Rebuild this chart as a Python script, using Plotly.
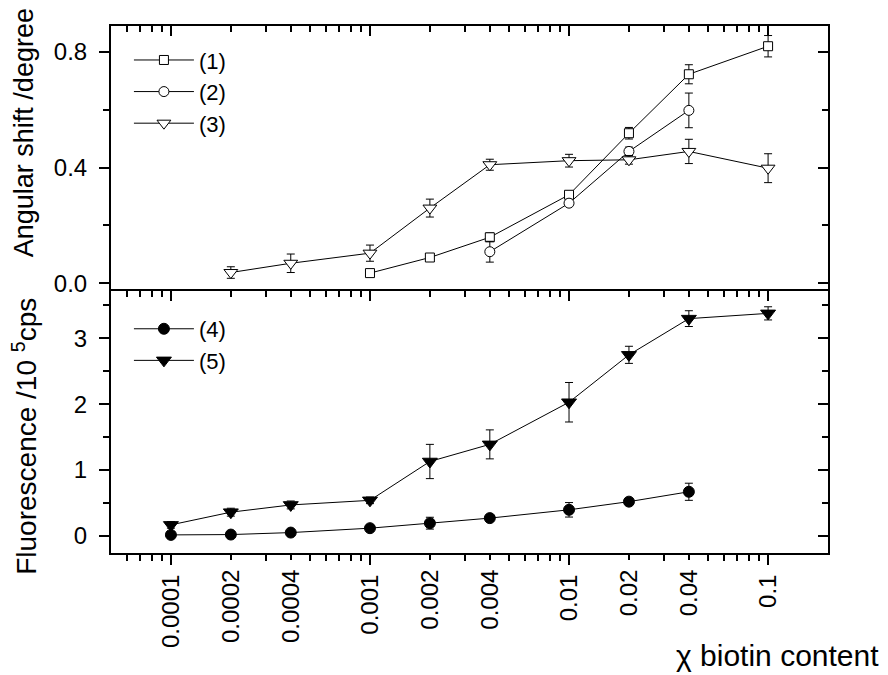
import math
import plotly.graph_objects as go

# ---------------- data ----------------
x_all = [0.0001, 0.0002, 0.0004, 0.001, 0.002, 0.004, 0.01, 0.02, 0.04, 0.1]
x_labels = ["0.0001", "0.0002", "0.0004", "0.001", "0.002", "0.004", "0.01", "0.02", "0.04", "0.1"]

s1_x = [0.001, 0.002, 0.004, 0.01, 0.02, 0.04, 0.1]
s1_y = [0.035, 0.089, 0.159, 0.306, 0.519, 0.723, 0.820]
s1_e = [0.006, 0.006, 0.015, 0.013, 0.020, 0.033, 0.037]

s2_x = [0.004, 0.01, 0.02, 0.04]
s2_y = [0.109, 0.277, 0.456, 0.598]
s2_e = [0.036, 0.010, 0.015, 0.060]

s3_x = [0.0002, 0.0004, 0.001, 0.002, 0.004, 0.01, 0.02, 0.04, 0.1]
s3_y = [0.037, 0.069, 0.104, 0.260, 0.410, 0.424, 0.427, 0.456, 0.398]
s3_e = [0.020, 0.032, 0.028, 0.031, 0.019, 0.022, 0.015, 0.042, 0.050]

s4_x = [0.0001, 0.0002, 0.0004, 0.001, 0.002, 0.004, 0.01, 0.02, 0.04]
s4_y = [0.015, 0.020, 0.050, 0.117, 0.193, 0.270, 0.396, 0.520, 0.670]
s4_e = [0.030, 0.030, 0.030, 0.040, 0.090, 0.040, 0.110, 0.050, 0.130]

s5_x = [0.0001, 0.0002, 0.0004, 0.001, 0.002, 0.004, 0.01, 0.02, 0.04, 0.1]
s5_y = [0.167, 0.360, 0.470, 0.540, 1.130, 1.390, 2.030, 2.750, 3.300, 3.380]
s5_e = [0.050, 0.060, 0.060, 0.050, 0.260, 0.220, 0.300, 0.130, 0.120, 0.100]

top_ticks = [0.0, 0.4, 0.8]
top_ticktext = ["0.0", "0.4", "0.8"]
bot_ticks = [0, 1, 2, 3]

x_min, x_max = 5e-5, 0.2
top_range = [-0.02, 0.89]
bot_range = [-0.26, 3.75]

FONT = "Liberation Sans, Arial, sans-serif"
TICKFONT = dict(family=FONT, size=24, color="black")

decades = [1e-4, 1e-3, 1e-2, 1e-1]
all_minor = [m * 10 ** d for d in range(-5, 0) for m in range(2, 10)
             if x_min < m * 10 ** d < x_max]
minor_vals = [v for v in all_minor if all(abs(v - a) / a > 1e-6 for a in x_all)]

xr = [math.log10(x_min), math.log10(x_max)]
split = 264 / 527

fig = go.Figure()

def add(xs, ys, es, name, symbol, fill, size, xa, ya, legend):
    fig.add_trace(go.Scatter(
        x=xs, y=ys, name=name, mode="lines+markers",
        xaxis=xa, yaxis=ya, legend=legend,
        line=dict(color="black", width=1),
        marker=dict(symbol=symbol, size=size, color=fill,
                    line=dict(color="black", width=1)),
        error_y=dict(type="data", array=es, visible=True, color="black",
                     thickness=1, width=4),
    ))

add(s1_x, s1_y, s1_e, "(1)", "square", "white", 9, "x2", "y2", "legend")
add(s2_x, s2_y, s2_e, "(2)", "circle", "white", 10, "x2", "y2", "legend")
add(s3_x, s3_y, s3_e, "(3)", "triangle-down", "white", 12, "x2", "y2", "legend")
add(s4_x, s4_y, s4_e, "(4)", "circle", "black", 11, "x", "y", "legend2")
add(s5_x, s5_y, s5_e, "(5)", "triangle-down", "black", 13, "x", "y", "legend2")

# empty helper traces so that the overlay (frame / tick) axes are drawn
for xa, ya in [("x3", "y"), ("x4", "y"), ("x5", "y2"), ("x", "y6"), ("x2", "y7")]:
    fig.add_trace(go.Scatter(x=[None], y=[None], xaxis=xa, yaxis=ya, mode="markers",
                             showlegend=False, hoverinfo="skip"))

line_common = dict(showline=True, linecolor="black", linewidth=2,
                   showgrid=False, zeroline=False)
tk = dict(tickwidth=1.5, tickcolor="black")

def minor_x(direction):
    return dict(ticks=direction, ticklen=6, tickmode="array", tickvals=all_minor,
                showgrid=False, **tk)

layout = dict(
    width=888, height=675,
    margin=dict(l=111, r=60, t=26, b=122),
    paper_bgcolor="white", plot_bgcolor="white",
    font=dict(family=FONT, size=24, color="black"),
    showlegend=True,
    # bottom panel, bottom axis: long decade ticks + labels
    xaxis=dict(type="log", range=xr, anchor="y", side="bottom", domain=[0, 1],
               ticks="outside", ticklen=10, **tk,
               tickmode="array", tickvals=decades,
               ticktext=["0.0001", "0.001", "0.01", "0.1"],
               tickangle=-90, tickfont=TICKFONT,
               minor=dict(ticks="outside", ticklen=6, tickmode="array",
                          tickvals=minor_vals, showgrid=False, **tk),
               **line_common),
    # overlay for labelled 2x / 4x values (short ticks)
    xaxis3=dict(type="log", range=xr, anchor="y", side="bottom", overlaying="x",
                ticks="outside", ticklen=6, **tk,
                tickmode="array",
                tickvals=[v for v in x_all if v not in decades],
                ticktext=[t for v, t in zip(x_all, x_labels) if v not in decades],
                tickangle=-90, tickfont=TICKFONT,
                showline=False, showgrid=False, zeroline=False),
    # bottom panel top border ticks (inside); the line itself comes from xaxis2
    xaxis4=dict(type="log", range=xr, anchor="y", side="top", overlaying="x",
                ticks="inside", ticklen=10, **tk,
                tickmode="array", tickvals=decades, showticklabels=False,
                minor=minor_x("inside"),
                showline=False, showgrid=False, zeroline=False),
    # top panel bottom axis (ticks pointing down)
    xaxis2=dict(type="log", range=xr, anchor="y2", side="bottom", domain=[0, 1],
                ticks="outside", ticklen=10, **tk,
                tickmode="array", tickvals=decades, showticklabels=False,
                minor=minor_x("outside"), **line_common),
    # top panel top border
    xaxis5=dict(type="log", range=xr, anchor="y2", side="top", overlaying="x2",
                ticks="inside", ticklen=10, **tk,
                tickmode="array", tickvals=decades, showticklabels=False,
                minor=minor_x("inside"), **line_common),
    yaxis=dict(domain=[0, split], range=bot_range, anchor="x", side="left",
               ticks="outside", ticklen=10, **tk,
               tickmode="array", tickvals=bot_ticks, tickfont=TICKFONT,
               ticklabelstandoff=7,
               minor=dict(ticks="outside", ticklen=6, dtick=0.5, showgrid=False, **tk),
               **line_common),
    yaxis6=dict(range=bot_range, anchor="x", side="right", overlaying="y",
                ticks="inside", ticklen=10, **tk,
                tickmode="array", tickvals=bot_ticks, showticklabels=False,
                minor=dict(ticks="inside", ticklen=6, dtick=0.5, showgrid=False, **tk),
                **line_common),
    yaxis2=dict(domain=[split, 1], range=top_range, anchor="x2", side="left",
                ticks="outside", ticklen=10, **tk,
                tickmode="array", tickvals=top_ticks, ticktext=top_ticktext,
                tickfont=TICKFONT, ticklabelstandoff=7,
                minor=dict(ticks="outside", ticklen=6, dtick=0.2, showgrid=False, **tk),
                **line_common),
    yaxis7=dict(range=top_range, anchor="x2", side="right", overlaying="y2",
                ticks="inside", ticklen=10, **tk,
                tickmode="array", tickvals=top_ticks, showticklabels=False,
                minor=dict(ticks="inside", ticklen=6, dtick=0.2, showgrid=False, **tk),
                **line_common),
    legend=dict(x=0.025, y=0.975, xanchor="left", yanchor="top",
                font=dict(family=FONT, size=22, color="black"),
                bgcolor="rgba(0,0,0,0)", tracegroupgap=0, itemwidth=60),
    legend2=dict(x=0.025, y=split - 0.036, xanchor="left", yanchor="top",
                 font=dict(family=FONT, size=22, color="black"),
                 bgcolor="rgba(0,0,0,0)", tracegroupgap=0, itemwidth=60),
    annotations=[
        dict(text="χ biotin content", xref="paper", yref="paper",
             x=1.074, y=-0.2305, xanchor="right", yanchor="bottom", showarrow=False,
             font=dict(family=FONT, size=30, color="black")),
        dict(text="Angular shift /degree", xref="paper", yref="paper",
             x=-0.121, y=0.797, xanchor="center", yanchor="middle", textangle=-90,
             showarrow=False, font=dict(family=FONT, size=27, color="black")),
        dict(text="Fluorescence /10 <sup>5</sup>cps", xref="paper", yref="paper",
             x=-0.121, y=0.221, xanchor="center", yanchor="middle", textangle=-90,
             showarrow=False, font=dict(family=FONT, size=28, color="black")),
    ],
)
fig.update_layout(**layout)
fig.write_html("out.html")
